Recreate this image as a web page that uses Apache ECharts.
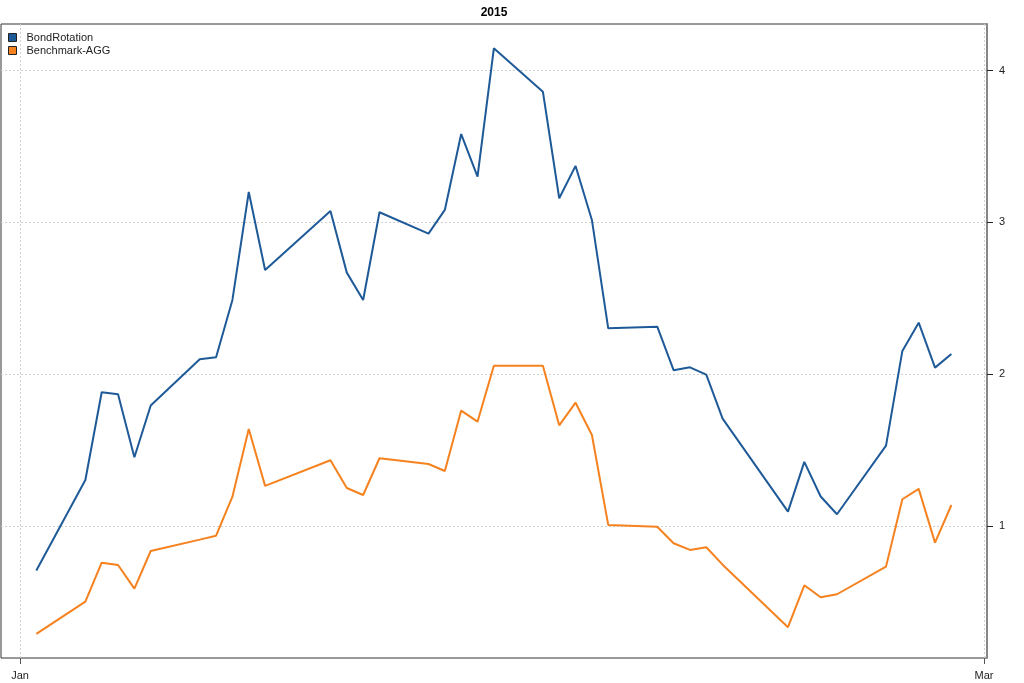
<!DOCTYPE html>
<html>
<head>
<meta charset="utf-8">
<script src="https://cdn.jsdelivr.net/npm/echarts@6/dist/echarts.min.js"></script>
<style>
html,body{margin:0;padding:0;background:#fff;}
#chart{width:1024px;height:683px;}
</style>
</head>
<body>
<div id="chart"></div>
<script>
const dates = [
  '2015-01-02','2015-01-05','2015-01-06','2015-01-07','2015-01-08','2015-01-09',
  '2015-01-12','2015-01-13','2015-01-14','2015-01-15','2015-01-16',
  '2015-01-20','2015-01-21','2015-01-22','2015-01-23',
  '2015-01-26','2015-01-27','2015-01-28','2015-01-29','2015-01-30',
  '2015-02-02','2015-02-03','2015-02-04','2015-02-05','2015-02-06',
  '2015-02-09','2015-02-10','2015-02-11','2015-02-12','2015-02-13',
  '2015-02-17','2015-02-18','2015-02-19','2015-02-20',
  '2015-02-23','2015-02-24','2015-02-25','2015-02-26','2015-02-27'
];
const bondRotation = [
  0.706, 1.303, 1.881, 1.868, 1.453, 1.794,
  2.098, 2.111, 2.489, 3.200, 2.686,
  3.075, 2.669, 2.489, 3.067,
  2.926, 3.082, 3.582, 3.301, 4.147,
  3.861, 3.159, 3.372, 3.016, 2.302,
  2.313, 2.026, 2.045, 1.997, 1.707,
  1.094, 1.422, 1.194, 1.077,
  1.529, 2.153, 2.339, 2.043, 2.133
];
const benchmarkAGG = [
  0.289, 0.501, 0.758, 0.743, 0.587, 0.835,
  0.910, 0.936, 1.193, 1.639, 1.264,
  1.433, 1.250, 1.204, 1.446,
  1.408, 1.362, 1.760, 1.687, 2.056,
  2.056, 1.663, 1.812, 1.599, 1.007,
  0.995, 0.886, 0.842, 0.860, 0.745,
  0.333, 0.609, 0.530, 0.550,
  0.732, 1.176, 1.244, 0.890, 1.138
];
const seriesNames = ['BondRotation', 'Benchmark-AGG'];
const titleText = '2015';
const yTicks = [1, 2, 3, 4];
const xTickDates = ['2015-01-01', '2015-03-01'];
const xTickLabels = ['Jan', 'Mar'];

const DAY = 86400000;
function ts(s) { const p = s.split('-').map(Number); return Date.UTC(p[0], p[1] - 1, p[2]); }
const origin = ts(xTickDates[0]);
function dayNum(s) { return Math.round((ts(s) - origin) / DAY); }
const xTickValues = xTickDates.map(dayNum);

const chart = echarts.init(document.getElementById('chart'), null, {renderer: 'canvas'});
const font = 'Liberation Sans, Arial, sans-serif';
chart.setOption({
  animation: false,
  backgroundColor: '#fff',
  title: {
    text: titleText, left: 494, top: 7, textAlign: 'center', padding: 0,
    textStyle: {fontFamily: font, fontSize: 12, fontWeight: 'bold', color: '#000'}
  },
  legend: {
    orient: 'vertical', left: 8, top: 32, padding: 0, itemWidth: 8, itemHeight: 8, itemGap: 2,
    icon: 'rect',
    data: [
      {name: seriesNames[0], itemStyle: {borderColor: '#222', borderWidth: 1}},
      {name: seriesNames[1], itemStyle: {borderColor: '#222', borderWidth: 1}}
    ],
    textStyle: {fontFamily: font, fontSize: 11, color: '#222', padding: [0, 0, 0, 5]}
  },
  grid: {
    left: 1, right: 37, top: 24, bottom: 25,
    show: true, borderColor: '#333', borderWidth: 1, backgroundColor: 'transparent'
  },
  xAxis: {
    type: 'value',
    min: xTickValues[0] - 1.163,
    max: xTickValues[1] + 0.18,
    axisLine: {show: false, onZero: false},
    axisTick: {show: true, length: 6, customValues: xTickValues, lineStyle: {color: '#555', width: 1}},
    axisLabel: {
      customValues: xTickValues, margin: 12, fontFamily: font, fontSize: 11, color: '#222',
      formatter: function (v) { const i = xTickValues.indexOf(Math.round(v)); return i >= 0 ? xTickLabels[i] : ''; }
    },
    splitLine: {show: true, lineStyle: {color: '#d0d0d0', type: [2, 2], width: 1}}
  },
  yAxis: {
    type: 'value', position: 'right',
    min: 0.13, max: 4.307,
    axisLine: {show: true, onZero: false, lineStyle: {color: '#888', width: 2}},
    axisTick: {show: true, length: 6, customValues: yTicks, lineStyle: {color: '#222', width: 1}},
    axisLabel: {customValues: yTicks, margin: 12, fontFamily: font, fontSize: 11, color: '#222'},
    splitLine: {show: true, lineStyle: {color: '#d0d0d0', type: [2, 2], width: 1}}
  },
  series: [
    {
      name: seriesNames[0], type: 'line', showSymbol: false, symbol: 'none',
      data: dates.map((d, i) => [dayNum(d), bondRotation[i]]),
      color: '#1f5a98', lineStyle: {width: 2, color: '#1f5a98'}
    },
    {
      name: seriesNames[1], type: 'line', showSymbol: false, symbol: 'none',
      data: dates.map((d, i) => [dayNum(d), benchmarkAGG[i]]),
      color: '#f5821f', lineStyle: {width: 2, color: '#f5821f'}
    }
  ]
});
</script>
</body>
</html>
